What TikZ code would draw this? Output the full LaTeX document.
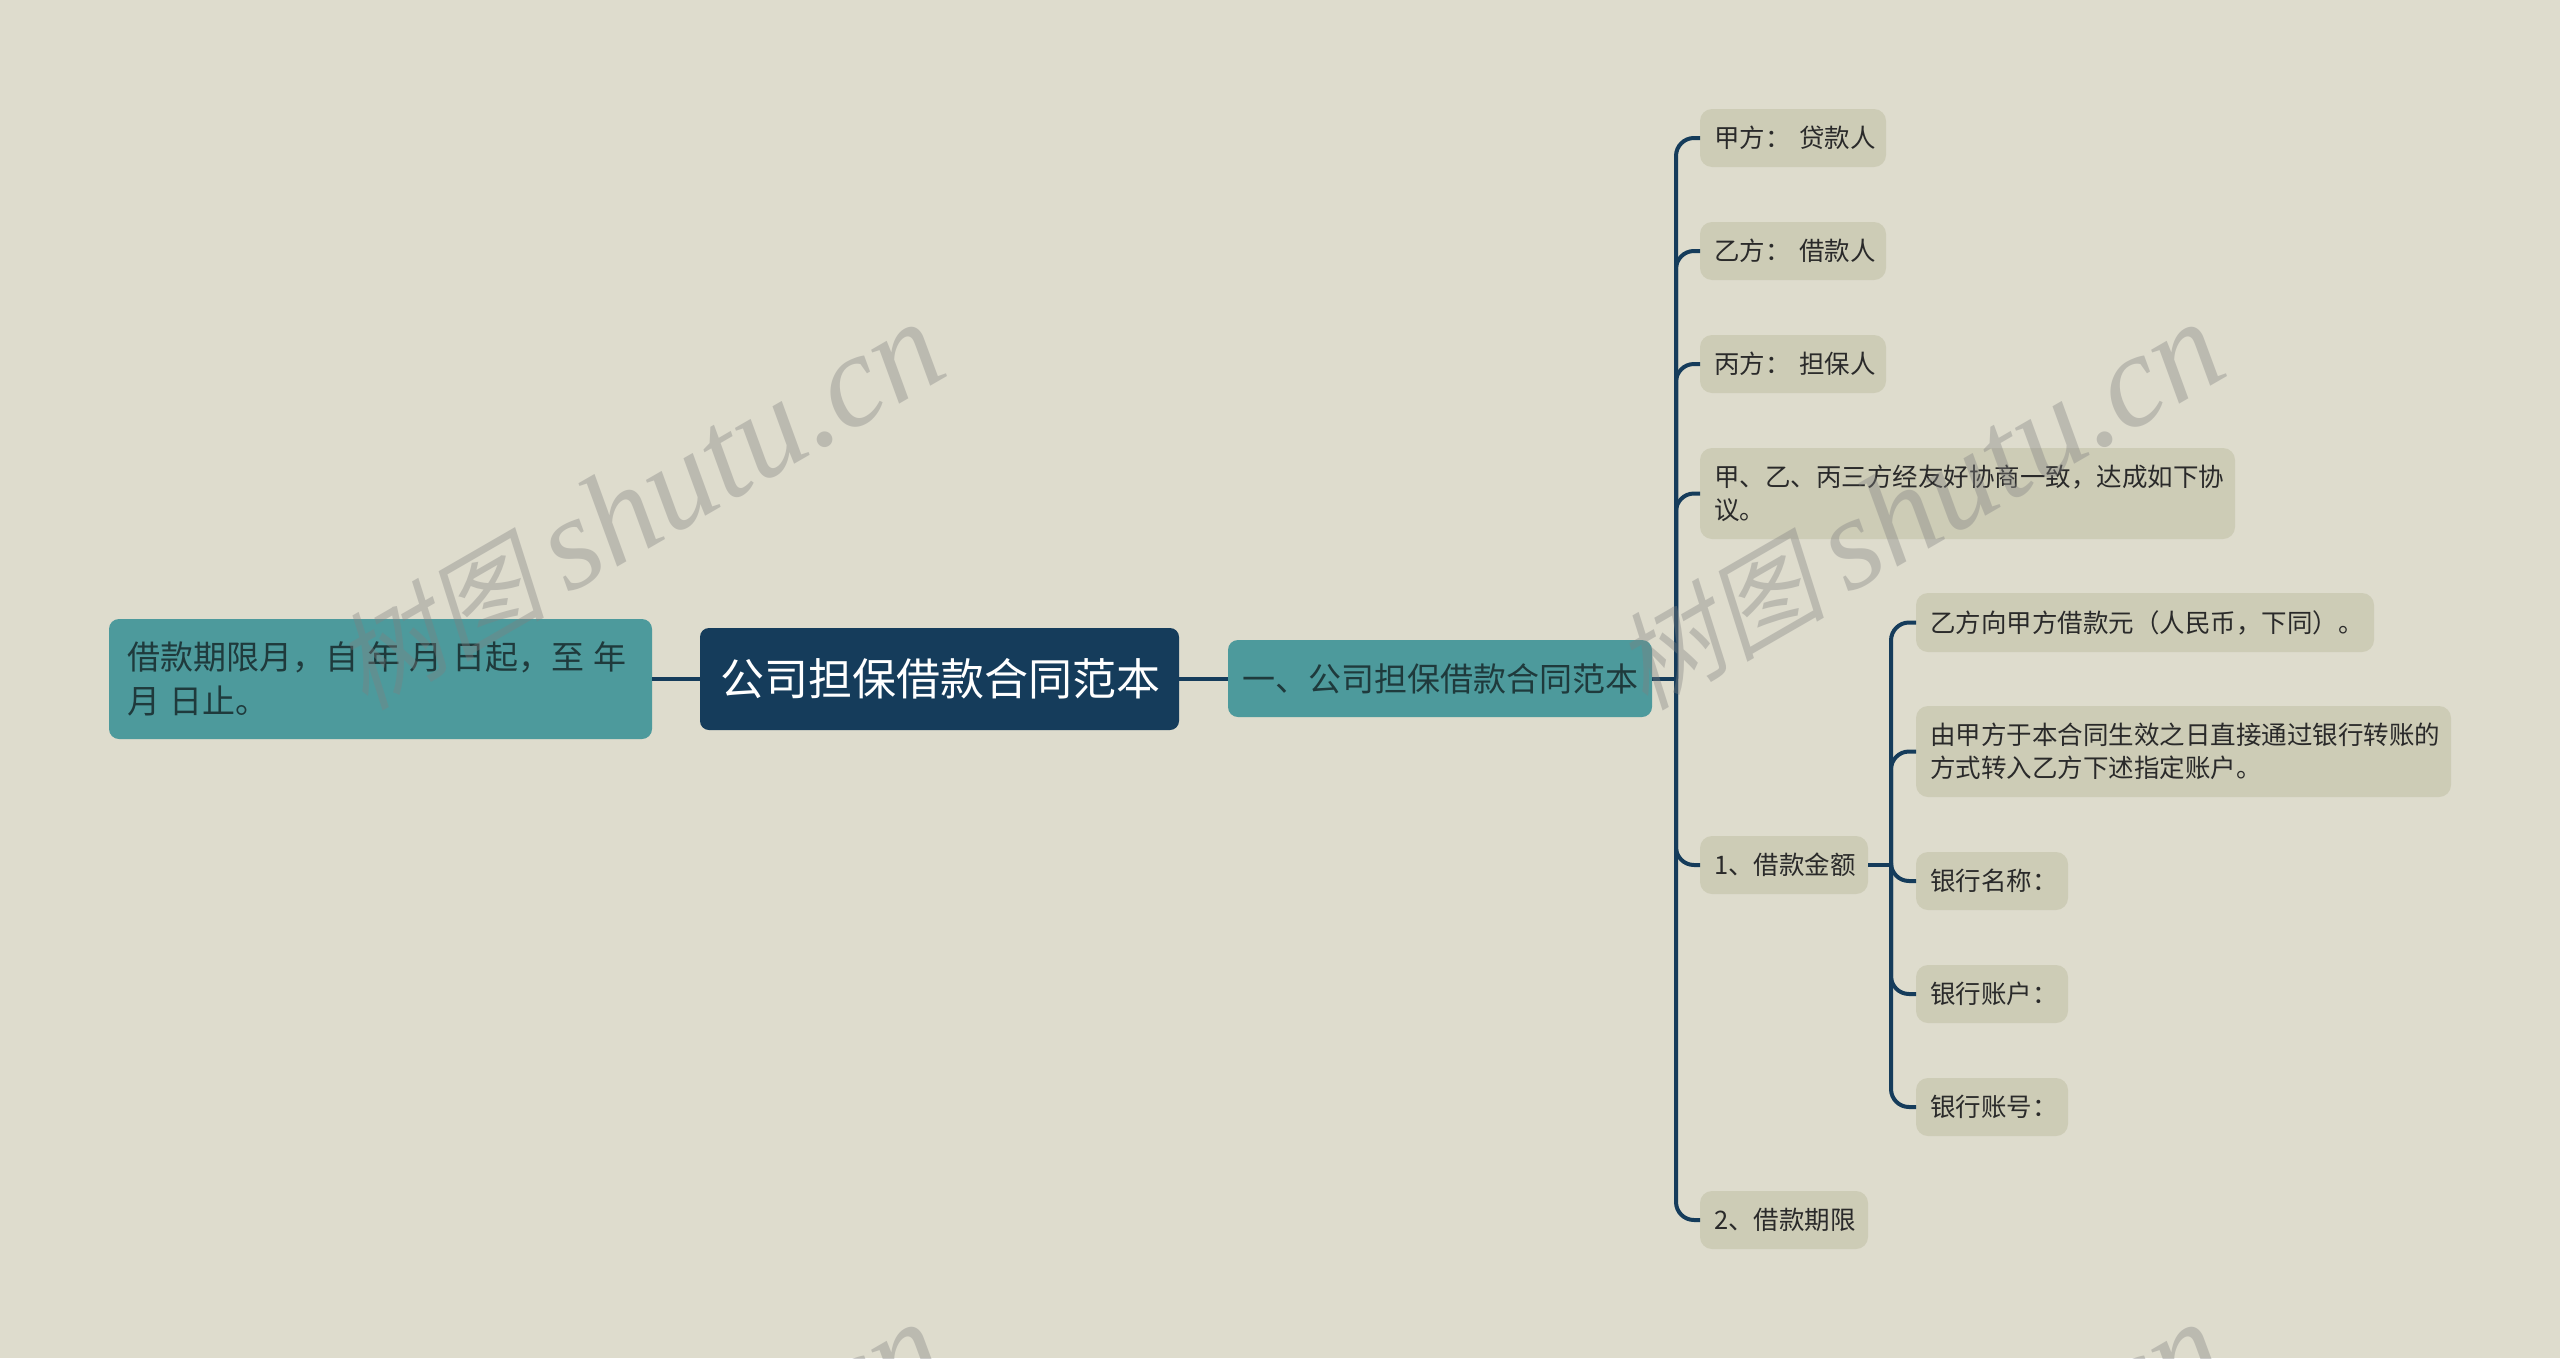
\documentclass[tikz,border=0pt]{standalone}
\usepackage{fontspec}
\setmainfont{Noto Sans CJK SC}
\newfontfamily\wmcjk[FakeSlant=0.22]{Noto Sans CJK SC}
\newfontfamily\wmlat{Liberation Serif}
\definecolor{bgc}{HTML}{DEDCCD}
\definecolor{rootc}{HTML}{153C5B}
\definecolor{tealc}{HTML}{4D9A9C}
\definecolor{leafc}{HTML}{CDCCB6}
\definecolor{inkc}{HTML}{2A2A2A}
\definecolor{tealink}{HTML}{1F3A3C}
\definecolor{wmc}{HTML}{808080}
\tikzset{
  boxbase/.style={anchor=north west, inner ysep=0pt, outer sep=0pt, font=\fontsize{25.5}{33}\selectfont, text=inkc},
  rootbox/.style={boxbase, fill=rootc, rounded corners=9pt, inner xsep=20pt, align=center, text=white, font=\fontsize{44}{52}\selectfont},
  tealbox/.style={boxbase, fill=tealc, rounded corners=10pt, inner xsep=18pt, align=left, text=tealink, font=\fontsize{33}{44}\selectfont},
  leafbox/.style={boxbase, fill=leafc, rounded corners=12pt, inner xsep=14pt, align=left},
  link/.style={draw=rootc, line width=4pt},
  elbow/.style={link, rounded corners=18pt},
  wmark/.style={anchor=base east, rotate=30, inner sep=0pt, text=wmc, text opacity=.37}
}
\newcommand{\wmtext}{{\wmcjk\fontsize{106}{112}\selectfont 树图}\hspace{22pt}{\wmlat\itshape\fontsize{132}{140}\selectfont shutu.cn}}
\newcommand{\dn}[1]{\leavevmode\lower1.5pt\hbox{#1}}
\begin{document}
\begin{tikzpicture}[x=1pt,y=-1pt]
\useasboundingbox (0,0) rectangle (2560,1358);
\fill[bgc] (0,0) rectangle (2560,1358);

\node[rootbox, minimum width=479pt, minimum height=102pt, text width=439pt] (root) at (700,628) {\dn{公司担保借款合同范本}};
\node[tealbox, minimum width=543pt, minimum height=120pt, text width=507pt] (left) at (109,619) {\spaceskip=9.4pt\relax\leavevmode\hbox{借款期限月，自 年 月 日起，至 年}\\\leavevmode\hbox{月 日止。}};
\node[tealbox, minimum width=424pt, minimum height=77pt, text width=400pt, inner xsep=12pt, align=center] (mid) at (1228,640) {\dn{一、公司担保借款合同范本}};

\node[leafbox, minimum width=186pt, minimum height=58pt, text width=158pt] (jia) at (1700,109) {\dn{甲方： 贷款人}};
\node[leafbox, minimum width=186pt, minimum height=58pt, text width=158pt] (yi) at (1700,222) {\dn{乙方： 借款人}};
\node[leafbox, minimum width=186pt, minimum height=58pt, text width=158pt] (bing) at (1700,335) {\dn{丙方： 担保人}};
\node[leafbox, minimum width=535pt, minimum height=91pt, text width=507pt] (agree) at (1700,448) {\dn{甲、乙、丙三方经友好协商一致，达成如下协}\\\dn{议。}};
\node[leafbox, minimum width=168pt, minimum height=58pt, text width=140pt] (amount) at (1700,836) {\dn{1、借款金额}};
\node[leafbox, minimum width=168pt, minimum height=58pt, text width=140pt] (term) at (1700,1191) {\dn{2、借款期限}};

\node[leafbox, minimum width=458pt, minimum height=59pt, text width=430pt] (lend) at (1916,593) {\dn{乙方向甲方借款元（人民币，下同）。}};
\node[leafbox, minimum width=535pt, minimum height=91pt, text width=507pt] (way) at (1916,706) {\dn{由甲方于本合同生效之日直接通过银行转账的}\\\dn{方式转入乙方下述指定账户。}};
\node[leafbox, minimum width=152pt, minimum height=58pt, text width=124pt] (bname) at (1916,852) {\dn{银行名称：}};
\node[leafbox, minimum width=152pt, minimum height=58pt, text width=124pt] (bacct) at (1916,965) {\dn{银行账户：}};
\node[leafbox, minimum width=152pt, minimum height=58pt, text width=124pt] (bnum) at (1916,1078) {\dn{银行账号：}};

\coordinate (busa) at (1676,678.5);
\coordinate (busb) at (1891,865);

\draw[link] (left.east) -- (root.west |- left.east);
\draw[link] (root.east) -- (mid.west |- root.east);
\draw[link] (mid.east) -- (busa);
\draw[link] (amount.east) -- (busb);
\foreach \t in {jia,yi,bing,agree,amount,term}
  \draw[elbow] (busa) |- (\t.west);
\foreach \t in {lend,way,bname,bacct,bnum}
  \draw[elbow] (busb) |- (\t.west);

\begin{scope}
\clip (0,0) rectangle (2560,1358);
\node[wmark] (wma) at (953,373) {\wmtext};
\node[wmark] (wmb) at (2233,373) {\wmtext};
\node[wmark] (wmc) at (953,1373) {\wmtext};
\node[wmark] (wmd) at (2233,1373) {\wmtext};
\end{scope}
\end{tikzpicture}
\end{document}
